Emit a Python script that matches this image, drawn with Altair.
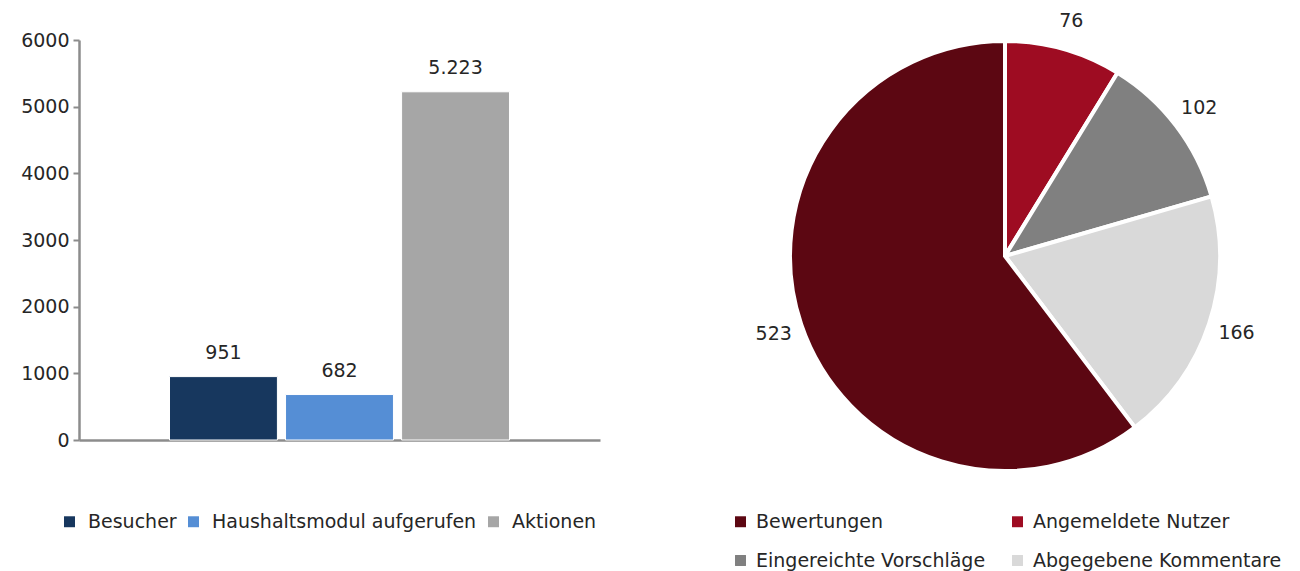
import altair as alt
import pandas as pd

# ---- data ----
bar_categories = ["Besucher", "Haushaltsmodul aufgerufen", "Aktionen"]
bar_values = [951, 682, 5223]
bar_labels = ["951", "682", "5.223"]
bar_colors = ["#17375E", "#558ED5", "#A6A6A6"]

pie_categories = ["Angemeldete Nutzer", "Eingereichte Vorschläge", "Abgegebene Kommentare", "Bewertungen"]
pie_values = [76, 102, 166, 523]
legend_order = ["Bewertungen", "Angemeldete Nutzer", "Eingereichte Vorschläge", "Abgegebene Kommentare"]
legend_colors = ["#5C0712", "#9E0C22", "#808080", "#D9D9D9"]

y_ticks = [0, 1000, 2000, 3000, 4000, 5000, 6000]

FONT = "DejaVu Sans"
FS = 19
TXT = "#262626"

bar_df = pd.DataFrame({"Kategorie": bar_categories, "Wert": bar_values, "Label": bar_labels})
pie_df = pd.DataFrame({"Art": pie_categories, "Anzahl": pie_values,
                       "ord": list(range(len(pie_categories)))})

# ---- bar chart ----
xenc = alt.X("Kategorie:N", sort=bar_categories, title=None,
             scale=alt.Scale(paddingInner=0.07, paddingOuter=0.78),
             axis=alt.Axis(labels=False, ticks=False, domainColor="#8C8C8C", domainWidth=2.5))
yenc = alt.Y("Wert:Q", title=None,
             scale=alt.Scale(domain=[0, 6000], nice=False),
             axis=alt.Axis(values=y_ticks, format="d", grid=False, domainColor="#8C8C8C",
                           domainWidth=2.5, tickColor="#8C8C8C", tickWidth=2, tickSize=6,
                           labelFontSize=FS, labelColor=TXT, labelFont=FONT, labelPadding=4,
                           minExtent=66))

bars = alt.Chart(bar_df).mark_bar(stroke="white", strokeWidth=1).encode(
    x=xenc, y=yenc,
    color=alt.Color("Kategorie:N", sort=bar_categories,
                    scale=alt.Scale(domain=bar_categories, range=bar_colors),
                    legend=alt.Legend(title=None, orient="none", direction="horizontal",
                                      legendX=-19, legendY=472, symbolType="square",
                                      symbolSize=120, symbolStrokeWidth=0, labelFontSize=FS,
                                      labelFont=FONT, labelColor=TXT, columnPadding=7,
                                      labelOffset=9, labelLimit=400)),
)
bar_text = alt.Chart(bar_df).mark_text(baseline="bottom", dy=-14, fontSize=FS, font=FONT,
                                       color=TXT).encode(
    x=alt.X("Kategorie:N", sort=bar_categories), y="Wert:Q", text="Label:N")

bar_chart = alt.layer(bars, bar_text).properties(width=521, height=400)

# ---- pie chart ----
base = alt.Chart(pie_df).encode(
    theta=alt.Theta("Anzahl:Q", stack=True),
    order=alt.Order("ord:Q"),
)
arcs = base.mark_arc(outerRadius=215, stroke="white", strokeWidth=4).encode(
    color=alt.Color("Art:N", sort=legend_order,
                    scale=alt.Scale(domain=legend_order, range=legend_colors),
                    legend=alt.Legend(title=None, orient="none", columns=2,
                                      direction="horizontal",
                                      legendX=-58, legendY=472, symbolType="square",
                                      symbolSize=120, symbolStrokeWidth=0, labelFontSize=FS,
                                      labelFont=FONT, labelColor=TXT, columnPadding=22,
                                      rowPadding=19, labelOffset=6, labelLimit=400)),
)
pie_text = base.mark_text(radius=244, fontSize=FS, font=FONT, color=TXT).encode(
    text=alt.Text("Anzahl:Q"))

pie_chart = alt.layer(arcs, pie_text).properties(width=432, height=432)

chart = alt.hconcat(bar_chart, pie_chart, spacing=131).resolve_scale(
    color="independent", x="independent", y="independent", theta="independent"
).properties(
    padding={"left": 5, "top": 4, "right": 0, "bottom": 0}
).configure_view(stroke=None)

chart.save("out.html", embed_options={"renderer": "svg", "actions": False})
